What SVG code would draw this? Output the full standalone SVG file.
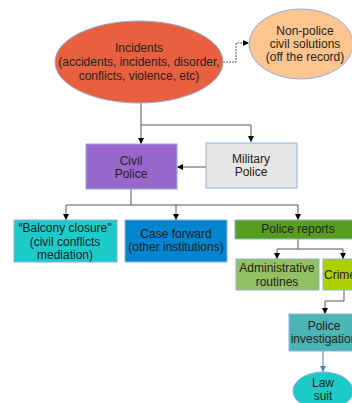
<svg xmlns="http://www.w3.org/2000/svg" width="352" height="403" viewBox="0 0 352 403">
<defs>
<marker id="ah" viewBox="0 0 10 10" refX="10" refY="5" markerWidth="6" markerHeight="6" markerUnits="userSpaceOnUse" orient="auto">
<path d="M0,0 L10,5 L0,10 z" fill="#000"/>
</marker>
<marker id="ahb" viewBox="0 0 10 10" refX="10" refY="5" markerWidth="6" markerHeight="6" markerUnits="userSpaceOnUse" orient="auto">
<path d="M0,0 L10,5 L0,10 z" fill="#4a7ebb"/>
</marker>
<style>
text{font-family:"Liberation Sans",Arial,sans-serif;font-size:12px;fill:#222;text-anchor:middle}
.n{stroke:#8fb0dc;stroke-width:1}
.c{fill:none;stroke:#555;stroke-width:1}
</style>
</defs>
<rect width="352" height="403" fill="#fff"/>
<g id="connectors">
<path class="c" d="M223,62 H236 V43 H249" stroke-dasharray="2,1" marker-end="url(#ah)"/>
<path class="c" d="M141,103 V125 H251 V142" marker-end="url(#ah)"/>
<path class="c" d="M141,125 V144" marker-end="url(#ah)"/>
<path class="c" d="M206,167 H177" marker-end="url(#ah)"/>
<path class="c" d="M131,189 V205" stroke="#999"/>
<path class="c" d="M66,205 H298"/>
<path class="c" d="M66,205 V220" marker-end="url(#ah)"/>
<path class="c" d="M176,205 V220" marker-end="url(#ah)"/>
<path class="c" d="M298,205 V220" marker-end="url(#ah)"/>
<path class="c" d="M298,239 V249"/>
<path class="c" d="M277,249 H343"/>
<path class="c" d="M277,249 V259" marker-end="url(#ah)"/>
<path class="c" d="M343,249 V259" marker-end="url(#ah)"/>
<path class="c" d="M344,290 V301 H325 V314" marker-end="url(#ah)"/>
<path d="M323,351 V372" fill="none" stroke="#4a7ebb" stroke-width="1" marker-end="url(#ahb)"/>
</g>
<g id="incidents">
<ellipse class="n" cx="139" cy="62" rx="84" ry="41" fill="#e8603e" stroke="#5b7fc0"/>
<text x="139" y="52">Incidents</text>
<text x="139" y="66">(accidents, incidents, disorder,</text>
<text x="139" y="80">conflicts, violence, etc)</text>
</g>
<g id="nonpolice">
<ellipse class="n" cx="301" cy="44" rx="52" ry="35" fill="#fdc690" stroke="#5b7fc0"/>
<text x="305" y="35">Non-police</text>
<text x="305" y="48">civil solutions</text>
<text x="305" y="61">(off the record)</text>
</g>
<g id="civil">
<rect class="n" x="86" y="144" width="91" height="45" fill="#9966cc"/>
<text x="131" y="165">Civil</text>
<text x="131" y="178">Police</text>
</g>
<g id="military">
<rect class="n" x="206" y="143" width="91" height="45" fill="#e6e6e6" stroke="#a9c2e4"/>
<text x="251" y="163">Military</text>
<text x="251" y="176">Police</text>
</g>
<g id="balcony">
<rect class="n" x="14" y="220" width="103" height="42" fill="#1ccaca"/>
<text x="65" y="232">“Balcony closure"</text>
<text x="65" y="246">(civil conflicts</text>
<text x="65" y="259">mediation)</text>
</g>
<g id="caseforward">
<rect class="n" x="125" y="220" width="102" height="42" fill="#0483cf"/>
<text x="176" y="238">Case forward</text>
<text x="176" y="251">(other institutions)</text>
</g>
<g id="policereports">
<rect class="n" x="235" y="220" width="126" height="19" fill="#589e1e"/>
<text x="298" y="233">Police reports</text>
</g>
<g id="administrative">
<rect class="n" x="236" y="259" width="83" height="31" fill="#93c060"/>
<text x="277" y="272">Administrative</text>
<text x="277" y="286">routines</text>
</g>
<g id="crime">
<rect class="n" x="323" y="259" width="40" height="31" fill="#b0cf00"/>
<text x="340" y="279">Crime</text>
</g>
<g id="investigation">
<rect class="n" x="289" y="314" width="70" height="37" fill="#4cb6b6"/>
<text x="324" y="330">Police</text>
<text x="324" y="343">investigation</text>
</g>
<g id="lawsuit">
<ellipse class="n" cx="323" cy="391" rx="30" ry="19" fill="#1ccaca" stroke="#5b7fc0"/>
<text x="323" y="387">Law</text>
<text x="323" y="400">suit</text>
</g>
</svg>
